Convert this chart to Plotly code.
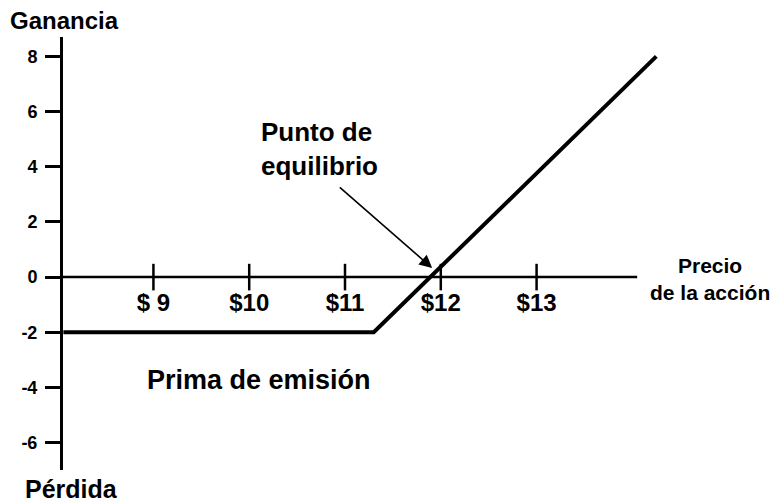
import plotly.graph_objects as go

# Profit of a bought call option against the share price (illustrative diagram)
PRICE = [8.06, 11.3, 14.25]
PROFIT = [-2, -2, 8]

X_TICKS = [9, 10, 11, 12, 13]
X_TICK_TEXT = ["$ 9", "$10", "$11", "$12", "$13"]
Y_TICKS = [8, 6, 4, 2, 0, -2, -4, -6]
Y_TICK_TEXT = ["8", "6", "4", "2", "0", "-2", "-4", "-6"]

BREAKEVEN = (11.91, 0.33)
ARROW_TAIL = (10.93, 3.3)

X_RANGE = [8.056, 14.706]
Y_RANGE = [-6.99, 8.70]
X_AXIS_END = 14.05

FONT = "Liberation Sans, Arial, Helvetica, sans-serif"
INK = "#000000"


def bold(size):
    return dict(family=FONT, size=size, color=INK, weight="bold")


fig = go.Figure()

# the payoff line
fig.add_trace(
    go.Scatter(
        x=PRICE,
        y=PROFIT,
        mode="lines",
        line=dict(color=INK, width=4),
        cliponaxis=False,
        hoverinfo="skip",
    )
)

# tick marks crossing the horizontal axis
fig.add_trace(
    go.Scatter(
        x=X_TICKS,
        y=[0] * len(X_TICKS),
        mode="markers",
        marker=dict(symbol="line-ns", size=19, line=dict(color=INK, width=2.5)),
        cliponaxis=False,
        hoverinfo="skip",
    )
)

# horizontal axis line (stops short of the right edge)
fig.add_shape(
    type="line",
    xref="x",
    yref="y",
    x0=X_RANGE[0],
    x1=X_AXIS_END,
    y0=0,
    y1=0,
    line=dict(color=INK, width=2.5),
)

fig.add_annotation(
    x=BREAKEVEN[0],
    y=BREAKEVEN[1],
    ax=ARROW_TAIL[0],
    ay=ARROW_TAIL[1],
    xref="x",
    yref="y",
    axref="x",
    ayref="y",
    text="",
    showarrow=True,
    arrowhead=2,
    arrowsize=1.6,
    arrowwidth=1.6,
    arrowcolor=INK,
)

# text labels, placed in paper coordinates
labels = [
    ("Ganancia", 0.003, 1.038, 24, "center"),
    ("Pérdida", 0.014, -0.043, 25, "center"),
    ("Punto de<br>equilibrio", 0.402, 0.741, 26, "left"),
    ("Prima de emisión", 0.308, 0.208, 27, "center"),
    ("Precio<br>de la acción", 1.016, 0.440, 21, "center"),
]
for text, x, y, size, align in labels:
    fig.add_annotation(
        x=x,
        y=y,
        xref="paper",
        yref="paper",
        text=text,
        showarrow=False,
        align=align,
        xanchor="center",
        yanchor="middle",
        borderpad=0,
        font=bold(size),
    )

# the page adds an 8 px body margin, so the figure is 8 px smaller
fig.update_layout(
    width=771,
    height=495,
    margin=dict(l=55, r=79, t=29, b=33),
    paper_bgcolor="white",
    plot_bgcolor="white",
    showlegend=False,
    font=dict(family=FONT, color=INK),
    xaxis=dict(
        range=X_RANGE,
        anchor="free",
        position=(0 - Y_RANGE[0]) / (Y_RANGE[1] - Y_RANGE[0]),
        tickvals=X_TICKS,
        ticktext=X_TICK_TEXT,
        ticks="",
        showline=False,
        showgrid=False,
        zeroline=False,
        tickfont=bold(24),
        ticklabelstandoff=9,
    ),
    yaxis=dict(
        range=Y_RANGE,
        tickvals=Y_TICKS,
        ticktext=Y_TICK_TEXT,
        showline=True,
        linecolor=INK,
        linewidth=3,
        ticks="outside",
        ticklen=15,
        tickwidth=2.5,
        tickcolor=INK,
        showgrid=False,
        zeroline=False,
        tickfont=bold(18),
        ticklabelstandoff=4,
    ),
)

fig.write_html("out.html")
